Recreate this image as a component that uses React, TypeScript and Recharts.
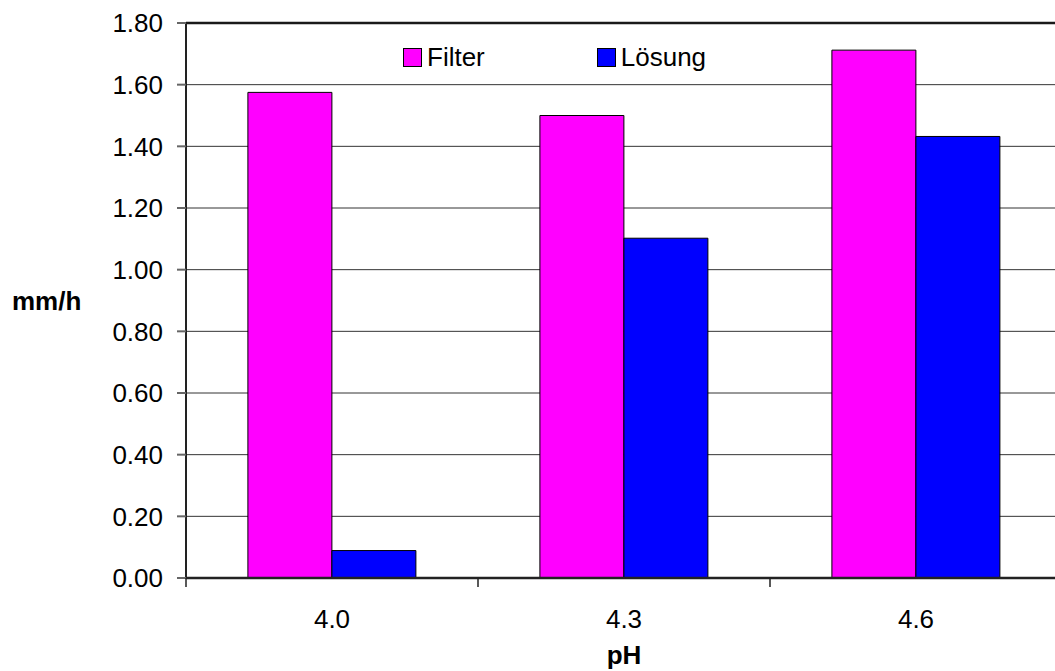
import { BarChart, Bar, XAxis, YAxis, CartesianGrid, ReferenceLine } from 'recharts';

const CATEGORIES = ['4.0', '4.3', '4.6'];
const FILTER = [1.575, 1.5, 1.712];
const LOESUNG = [0.089, 1.102, 1.432];
const Y_TICKS = [0, 0.2, 0.4, 0.6, 0.8, 1.0, 1.2, 1.4, 1.6, 1.8];

const data = CATEGORIES.map((ph, i) => ({ ph, filter: FILTER[i], loesung: LOESUNG[i] }));

const CHART_W = 1070;
const CHART_H = 671;
const LEFT = 186;
const RIGHT = 8;
const HALF_BAND = (CHART_W - LEFT - RIGHT) / CATEGORIES.length / 2;
const FONT = '"Liberation Sans", Arial, sans-serif';
const FS = 26;

function CategoryTick(props: any) {
  const { x, y, payload, index } = props;
  const left = x - HALF_BAND;
  return (
    <g>
      <line x1={left} y1={y} x2={left} y2={y + 9} stroke="#222" strokeWidth={1.5} />
      {index === CATEGORIES.length - 1 && (
        <line x1={x + HALF_BAND} y1={y} x2={x + HALF_BAND} y2={y + 9} stroke="#222" strokeWidth={1.5} />
      )}
      <text x={x} y={y + 50} textAnchor="middle" fontSize={FS} fill="#000" fontFamily={FONT}>
        {payload.value}
      </text>
    </g>
  );
}

// legend drawn as an overlay so it does not take space from the plot
function LegendBox() {
  const items = [
    { label: 'Filter', color: '#ff00ff', gap: 0 },
    { label: 'Lösung', color: '#0000ff', gap: 112 },
  ];
  return (
    <div
      style={{
        position: 'absolute',
        top: 45,
        left: 403,
        display: 'flex',
        alignItems: 'center',
        fontSize: FS,
        lineHeight: '25px',
      }}
    >
      {items.map((it) => (
        <div key={it.label} style={{ display: 'flex', alignItems: 'center', marginLeft: it.gap }}>
          <span
            style={{
              display: 'inline-block',
              width: 17,
              height: 17,
              background: it.color,
              border: '1px solid #000',
              marginRight: 5,
            }}
          />
          <span>{it.label}</span>
        </div>
      ))}
    </div>
  );
}

export default function App() {
  return (
    <div
      style={{
        position: 'fixed',
        left: 0,
        top: 0,
        width: 1055,
        height: 671,
        overflow: 'hidden',
        background: '#fff',
        fontFamily: FONT,
      }}
    >
      <BarChart
        width={CHART_W}
        height={CHART_H}
        data={data}
        margin={{ top: 23, right: RIGHT, bottom: 0, left: 0 }}
        barCategoryGap="21.2%"
        barGap={0}
      >
        <CartesianGrid vertical={false} stroke="#333" strokeWidth={1} />
        <ReferenceLine y={1.8} stroke="#1a1a1a" strokeWidth={2.5} />
        <XAxis
          dataKey="ph"
          height={93}
          tickSize={0}
          tickMargin={0}
          axisLine={{ stroke: '#222', strokeWidth: 2.5 }}
          tickLine={false}
          tick={(p: any) => <CategoryTick {...p} />}
          label={{
            value: 'pH',
            position: 'insideBottom',
            offset: 7,
            fontSize: FS,
            fontWeight: 'bold',
            fill: '#000',
          }}
        />
        <YAxis
          width={LEFT}
          domain={[0, 1.8]}
          ticks={Y_TICKS}
          tickFormatter={(v: number) => v.toFixed(2)}
          tickSize={9}
          tickMargin={14}
          tick={{ fontSize: FS, fill: '#000' }}
          tickLine={{ stroke: '#666', strokeWidth: 2 }}
          axisLine={{ stroke: '#222', strokeWidth: 2 }}
          label={{
            value: 'mm/h',
            position: 'insideLeft',
            offset: 12,
            fontSize: FS,
            fontWeight: 'bold',
            fill: '#000',
          }}
        />
        <Bar dataKey="filter" fill="#ff00ff" stroke="#000" strokeWidth={1} isAnimationActive={false} />
        <Bar dataKey="loesung" fill="#0000ff" stroke="#000" strokeWidth={1} isAnimationActive={false} />
      </BarChart>
      <LegendBox />
    </div>
  );
}
